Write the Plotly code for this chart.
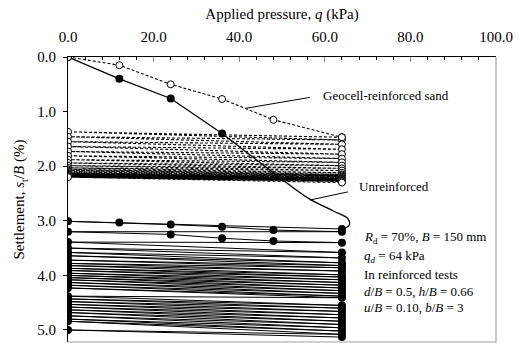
import plotly.graph_objects as go

# ---- data ----
q_mono = [0, 12, 24, 36, 48, 64]
geo_mono_s = [0.0, 0.15, 0.50, 0.77, 1.15, 1.47]

unr_mono_q = [0, 12, 24, 36]
unr_mono_s = [0.0, 0.40, 0.76, 1.40]
unr_curve_q = [36, 46, 56, 62, 65.4, 65.7, 64]
unr_curve_s = [1.40, 2.00, 2.58, 2.82, 2.96, 3.08, 3.15]

q_unload = 0
q_peak = 64

geo_cyc_q0 = [1.37, 1.46, 1.55, 1.64, 1.73, 1.81, 1.88, 1.94, 1.99, 2.03, 2.06,
              2.08, 2.10, 2.12, 2.13, 2.14, 2.15, 2.16, 2.17, 2.18, 2.19, 2.20]
geo_cyc_q64 = [1.52, 1.60, 1.69, 1.78, 1.86, 1.93, 1.99, 2.04, 2.08, 2.12, 2.15,
               2.17, 2.19, 2.21, 2.22, 2.23, 2.24, 2.25, 2.26, 2.27, 2.28, 2.30]

unr_cyc_q0 = [3.01, 3.20, 3.39, 3.50, 3.58, 3.64, 3.72, 3.78, 3.82, 3.87, 3.91,
              3.96, 4.00, 4.04, 4.08, 4.13, 4.18, 4.23, 4.38, 4.43, 4.48, 4.53,
              4.58, 4.63, 4.68, 4.74, 4.80, 4.84, 5.00]
unr_cyc_q64 = [3.20, 3.40, 3.58, 3.68, 3.77, 3.82, 3.86, 3.92, 3.99, 4.03, 4.08,
               4.13, 4.18, 4.23, 4.28, 4.33, 4.38, 4.41, 4.55, 4.60, 4.66, 4.72,
               4.78, 4.84, 4.90, 4.96, 5.02, 5.08, 5.13]
unr_reload1_q = [12, 24, 36, 48]
unr_reload1_s = [3.03, 3.07, 3.11, 3.17]
unr_reload2_q = [24, 36, 48]
unr_reload2_s = [3.25, 3.32, 3.37]

x_ticks = [0, 20, 40, 60, 80, 100]
y_ticks = [0, 1, 2, 3, 4, 5]

# ---- build cyclic paths ----
def cyc_path(start_s, lefts, rights, extra=None):
    xs, ys = [q_peak], [start_s]
    extra = extra or {}
    for i, (l, r) in enumerate(zip(lefts, rights)):
        xs.append(q_unload); ys.append(l)
        if i in extra:
            xs += extra[i][0]; ys += extra[i][1]
        xs.append(q_peak); ys.append(r)
    return xs, ys

gx, gy = cyc_path(geo_mono_s[-1], geo_cyc_q0, geo_cyc_q64)
ux, uy = cyc_path(unr_curve_s[-1], unr_cyc_q0, unr_cyc_q64,
                  {0: (unr_reload1_q, unr_reload1_s), 1: (unr_reload2_q, unr_reload2_s)})

FONT = "Times New Roman, Liberation Serif, Tinos, DejaVu Serif, serif"
fig = go.Figure()

# unreinforced
fig.add_trace(go.Scatter(x=unr_curve_q, y=unr_curve_s, mode="lines", line_shape="spline",
                         line=dict(color="black", width=1.3), hoverinfo="skip"))
fig.add_trace(go.Scatter(x=ux, y=uy, mode="lines+markers",
                         line=dict(color="black", width=1.0),
                         marker=dict(symbol="circle", size=8, color="black")))
fig.add_trace(go.Scatter(x=unr_mono_q, y=unr_mono_s, mode="lines+markers",
                         line=dict(color="black", width=1.3),
                         marker=dict(symbol="circle", size=8, color="black")))
# geocell
fig.add_trace(go.Scatter(x=gx, y=gy, mode="lines+markers",
                         line=dict(color="black", width=1.1, dash="3px,2px"),
                         marker=dict(symbol="circle", size=7, color="white",
                                     line=dict(color="black", width=1))))
fig.add_trace(go.Scatter(x=q_mono, y=geo_mono_s, mode="lines+markers",
                         line=dict(color="black", width=1.1, dash="3px,2px"),
                         marker=dict(symbol="circle", size=7, color="white",
                                     line=dict(color="black", width=1))))

# leader lines
fig.add_shape(type="line", x0=41.5, y0=0.94, x1=56.5, y1=0.74, xref="x", yref="y",
              line=dict(color="black", width=1))
fig.add_shape(type="line", x0=56.5, y0=2.62, x1=65.4, y1=2.47, xref="x", yref="y",
              line=dict(color="black", width=1))
# gray right / bottom border
fig.add_shape(type="line", x0=1, y0=0, x1=1, y1=1, xref="paper", yref="paper",
              line=dict(color="#a0a0a0", width=1.2))
fig.add_shape(type="line", x0=0, y0=0, x1=1, y1=0, xref="paper", yref="paper",
              line=dict(color="#a0a0a0", width=1.2))

def note(x, y, text):
    fig.add_annotation(x=x, y=y, xref="x", yref="y", text=text, showarrow=False,
                       xanchor="left", yanchor="middle", align="left",
                       font=dict(family=FONT, size=13, color="black"))

note(59.0, 0.70, "Geocell-reinforced sand")
note(67.5, 2.38, "Unreinforced")
note(68.6, 3.30, "<i>R</i><sub>d</sub> = 70%, <i>B</i> = 150 mm")
note(68.6, 3.66, "<i>q</i><sub><i>d</i></sub> = 64 kPa")
note(68.6, 3.99, "In reinforced tests")
note(68.6, 4.29, "<i>d</i>/<i>B</i> = 0.5, <i>h</i>/<i>B</i> = 0.66")
note(68.6, 4.58, "<i>u</i>/<i>B</i> = 0.10, <i>b</i>/<i>B</i> = 3")

fig.update_layout(
    width=521, height=343,
    margin=dict(l=68, r=25, t=57, b=1),
    plot_bgcolor="white", paper_bgcolor="white",
    showlegend=False,
    font=dict(family=FONT, size=15, color="black"),
    xaxis=dict(side="top", range=[0, 100], tickvals=x_ticks,
               ticktext=[f"{v:.1f}" for v in x_ticks],
               showgrid=False, zeroline=False, showline=True, linecolor="black",
               linewidth=1.2, ticks="inside", ticklen=5, tickcolor="#888",
               ticklabelstandoff=8,
               minor=dict(dtick=4, ticks="inside", ticklen=3, tickcolor="black"),
               tickfont=dict(family=FONT, size=15),
               title=dict(text="Applied pressure, <i>q</i> (kPa)", standoff=5,
                          font=dict(family=FONT, size=15))),
    yaxis=dict(range=[5.22, 0], tickvals=y_ticks,
               ticktext=[f"{v:.1f}" for v in y_ticks],
               showgrid=False, zeroline=False, showline=True, linecolor="black",
               linewidth=1.2, ticks="outside", ticklen=4, tickcolor="black",
               ticklabelstandoff=4,
               tickfont=dict(family=FONT, size=15),
               title=dict(text="Settlement, <i>s</i><sub>t</sub>/<i>B</i> (%)", standoff=8,
                          font=dict(family=FONT, size=15))),
)

fig.write_html("out.html")
